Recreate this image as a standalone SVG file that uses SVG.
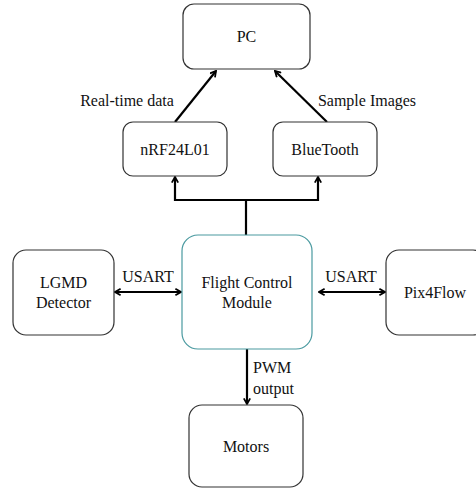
<svg xmlns="http://www.w3.org/2000/svg" width="476" height="489" viewBox="0 0 476 489">
<style>
.box{fill:#fff;stroke:#333;stroke-width:1.2}
.fcm{fill:#fff;stroke:#4a9aa0;stroke-width:1.2}
text{font-family:"Liberation Serif",Tinos,"DejaVu Serif","Noto Serif",Times,serif;font-size:16px;fill:#111}
.c{text-anchor:middle}
.ln{fill:none;stroke:#000;stroke-width:2.2}
</style>
<defs>
<marker id="ah" viewBox="0 0 10 10" refX="8.5" refY="5" markerWidth="8" markerHeight="8" orient="auto-start-reverse" markerUnits="userSpaceOnUse">
<path d="M1.5,1 L8.5,5 L1.5,9" fill="none" stroke="#000" stroke-width="2.2"/>
</marker>
</defs>
<g id="connectors">
<line class="ln" x1="175" y1="122" x2="216" y2="71" marker-end="url(#ah)"/>
<line class="ln" x1="327" y1="122" x2="275" y2="71" marker-end="url(#ah)"/>
<line class="ln" x1="246" y1="235" x2="246" y2="200"/>
<polyline class="ln" points="175,177 175,200 318,200 318,177" marker-start="url(#ah)" marker-end="url(#ah)"/>
<line class="ln" x1="115" y1="292" x2="181" y2="292" marker-start="url(#ah)" marker-end="url(#ah)"/>
<line class="ln" x1="319" y1="292" x2="385" y2="292" marker-start="url(#ah)" marker-end="url(#ah)"/>
<line class="ln" x1="247" y1="349" x2="247" y2="404" marker-end="url(#ah)"/>
<text x="127" y="106" class="c">Real-time data</text>
<text x="367" y="106" class="c">Sample Images</text>
<text x="148" y="282" class="c">USART</text>
<text x="351" y="282" class="c">USART</text>
<text x="253" y="373">PWM</text>
<text x="253" y="394">output</text>
</g>
<g id="pc"><rect class="box" x="183" y="4" width="127" height="65" rx="11"/><text x="246.5" y="42" class="c">PC</text></g>
<g id="nrf"><rect class="box" x="123" y="122" width="104" height="54" rx="10"/><text x="175" y="155" class="c">nRF24L01</text></g>
<g id="bt"><rect class="box" x="273" y="122" width="104" height="54" rx="10"/><text x="325" y="155" class="c">BlueTooth</text></g>
<g id="fcm"><rect class="fcm" x="182" y="235" width="130" height="114" rx="16"/><text x="247" y="288" class="c">Flight Control</text><text x="247" y="308" class="c">Module</text></g>
<g id="lgmd"><rect class="box" x="13" y="250" width="101" height="85" rx="13"/><text x="63.5" y="288" class="c">LGMD</text><text x="63.5" y="308" class="c">Detector</text></g>
<g id="pix"><rect class="box" x="386" y="250" width="100" height="85" rx="13"/><text x="435" y="298" class="c">Pix4Flow</text></g>
<g id="motors"><rect class="box" x="189" y="405" width="114" height="82" rx="13"/><text x="246" y="452" class="c">Motors</text></g>
</svg>
